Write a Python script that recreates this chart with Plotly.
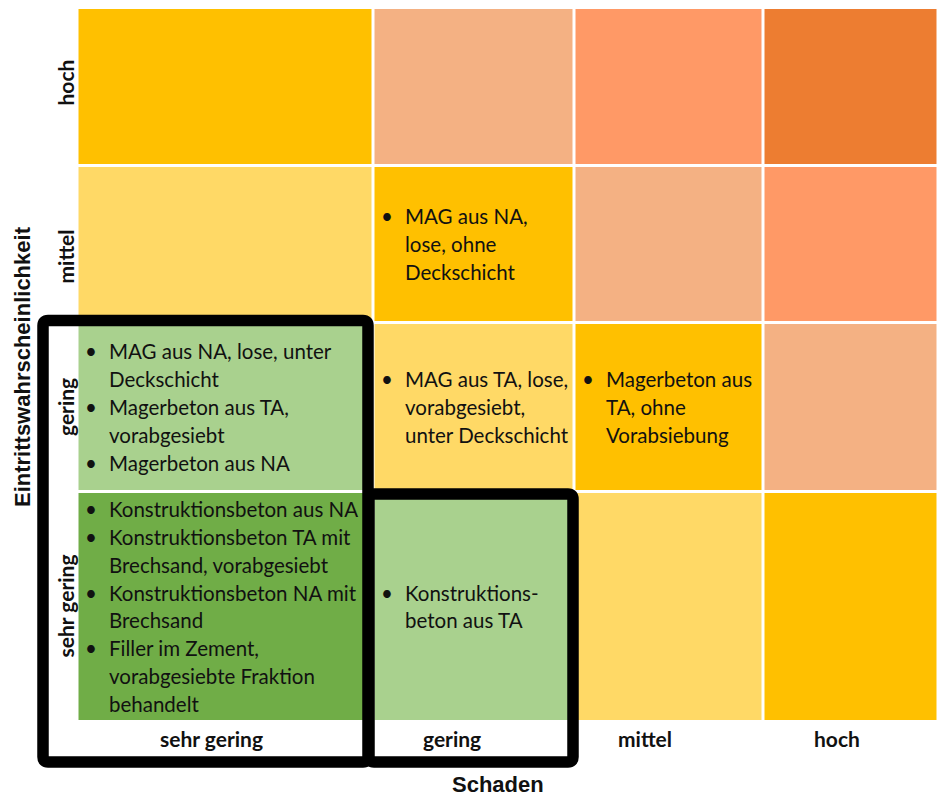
import plotly.graph_objects as go

# ---------------- data ----------------
damage_levels = ["sehr gering", "gering", "mittel", "hoch"]            # Schaden (x)
prob_levels = ["hoch", "mittel", "gering", "sehr gering"]              # Eintrittswahrscheinlichkeit (rows, top->bottom)
x_title = "Schaden"
y_title = "Eintrittswahrscheinlichkeit"

# risk class of each cell (rows top->bottom, columns left->right)
risk_class = [
    [3, 4, 5, 6],
    [2, 3, 4, 5],
    [1, 2, 3, 4],
    [0, 1, 2, 3],
]
class_colors = ["#70AD47", "#A9D18E", "#FFD966", "#FFC000", "#F4B183", "#FF9966", "#ED7D31"]

# bullet items per cell: (row, col) -> list of items, each item is a list of lines
cell_items = {
    (1, 1): [["MAG aus NA,", "lose, ohne", "Deckschicht"]],
    (2, 0): [["MAG aus NA, lose, unter", "Deckschicht"],
             ["Magerbeton aus TA,", "vorabgesiebt"],
             ["Magerbeton aus NA"]],
    (2, 1): [["MAG aus TA, lose,", "vorabgesiebt,", "unter Deckschicht"]],
    (2, 2): [["Magerbeton aus", "TA, ohne", "Vorabsiebung"]],
    (3, 0): [["Konstruktionsbeton aus NA"],
             ["Konstruktionsbeton TA mit", "Brechsand, vorabgesiebt"],
             ["Konstruktionsbeton NA mit", "Brechsand"],
             ["Filler im Zement,", "vorabgesiebte Fraktion", "behandelt"]],
    (3, 1): [["Konstruktions-", "beton aus TA"]],
}

# ---------------- layout constants (pixel frame) ----------------
W, H = 937, 796
X_EDGES = [77.5, 373.5, 574.5, 763.0, 938.5]
Y_EDGES = [8.0, 165.5, 322.5, 491.5, 721.5]
COL_LABEL_X = [211.5, 451.5, 644.5, 837]
COL_LABEL_Y = 738
ROW_LABEL_Y = [82.5, 256.5, 407, 606.5]
ROW_LABEL_X = 65
LINE_H = 27.8
BULLET_DX = 12
TEXT_DX = 28
CELL_FONT = dict(family="Lato, Carlito, 'Open Sans', sans-serif", size=20.5, color="#111111")
LABEL_FONT = dict(family="Lato, Carlito, 'Open Sans', sans-serif", size=21, color="#111111")
TITLE_FONT = dict(family="'Liberation Sans', Arial, sans-serif", size=22, color="#111111")
BOX_W = 11.5

fig = go.Figure()

n = len(class_colors)
colorscale = []
for i, c in enumerate(class_colors):
    colorscale.append([i / n, c])
    colorscale.append([(i + 1) / n, c])

fig.add_trace(go.Heatmap(
    x=X_EDGES, y=Y_EDGES, z=risk_class,
    colorscale=colorscale, zmin=-0.5, zmax=n - 0.5,
    showscale=False, xgap=3, ygap=3, hoverinfo="skip",
))

ann = []
# cell texts
for (r, c), items in cell_items.items():
    nlines = sum(len(it) for it in items)
    yc = (Y_EDGES[r] + Y_EDGES[r + 1]) / 2
    y0 = yc - (nlines - 1) * LINE_H / 2
    xl = X_EDGES[c] + 1.5
    k = 0
    for it in items:
        ann.append(dict(x=xl + BULLET_DX, y=y0 + k * LINE_H, text="•", xanchor="center",
                        yanchor="middle", showarrow=False, font=CELL_FONT))
        for line in it:
            ann.append(dict(x=xl + TEXT_DX, y=y0 + k * LINE_H, text=line, xanchor="left",
                            yanchor="middle", showarrow=False, font=CELL_FONT))
            k += 1

# column labels
for j, lab in enumerate(damage_levels):
    ann.append(dict(x=COL_LABEL_X[j], y=COL_LABEL_Y, text=f"<b>{lab}</b>", showarrow=False,
                    xanchor="center", yanchor="middle", font=LABEL_FONT))
# row labels
for i, lab in enumerate(prob_levels):
    ann.append(dict(x=ROW_LABEL_X, y=ROW_LABEL_Y[i], text=f"<b>{lab}</b>", showarrow=False,
                    textangle=-90, xanchor="center", yanchor="middle", font=LABEL_FONT))
# axis titles
ann.append(dict(x=498, y=784, text=f"<b>{x_title}</b>", showarrow=False,
                xanchor="center", yanchor="middle", font=TITLE_FONT))
ann.append(dict(x=22, y=367, text=f"<b>{y_title}</b>", showarrow=False, textangle=-90,
                xanchor="center", yanchor="middle", font=TITLE_FONT))

# highlight boxes
def rounded(x0, y0, x1, y1, r=5):
    return (f"M {x0+r},{y0} L {x1-r},{y0} Q {x1},{y0} {x1},{y0+r} "
            f"L {x1},{y1-r} Q {x1},{y1} {x1-r},{y1} L {x0+r},{y1} "
            f"Q {x0},{y1} {x0},{y1-r} L {x0},{y0+r} Q {x0},{y0} {x0+r},{y0} Z")

box_frames = [(43, 320.5, 368, 762), (369, 494, 573, 762)]
shapes = []
for (x0, y0, x1, y1) in box_frames:
    shapes.append(dict(type="path", path=rounded(x0, y0, x1, y1), xref="x", yref="y",
                       line=dict(color="black", width=BOX_W), fillcolor="rgba(0,0,0,0)"))

fig.update_layout(
    width=W, height=H, margin=dict(l=0, r=0, t=0, b=0),
    paper_bgcolor="white", plot_bgcolor="white",
    xaxis=dict(range=[0, W], visible=False, fixedrange=True),
    yaxis=dict(range=[H, 0], visible=False, fixedrange=True),
    annotations=ann, shapes=shapes, showlegend=False,
)

fig.write_html("out.html", config={"displayModeBar": False},
               post_script="document.body.style.margin='0px';document.body.style.overflow='hidden';")
